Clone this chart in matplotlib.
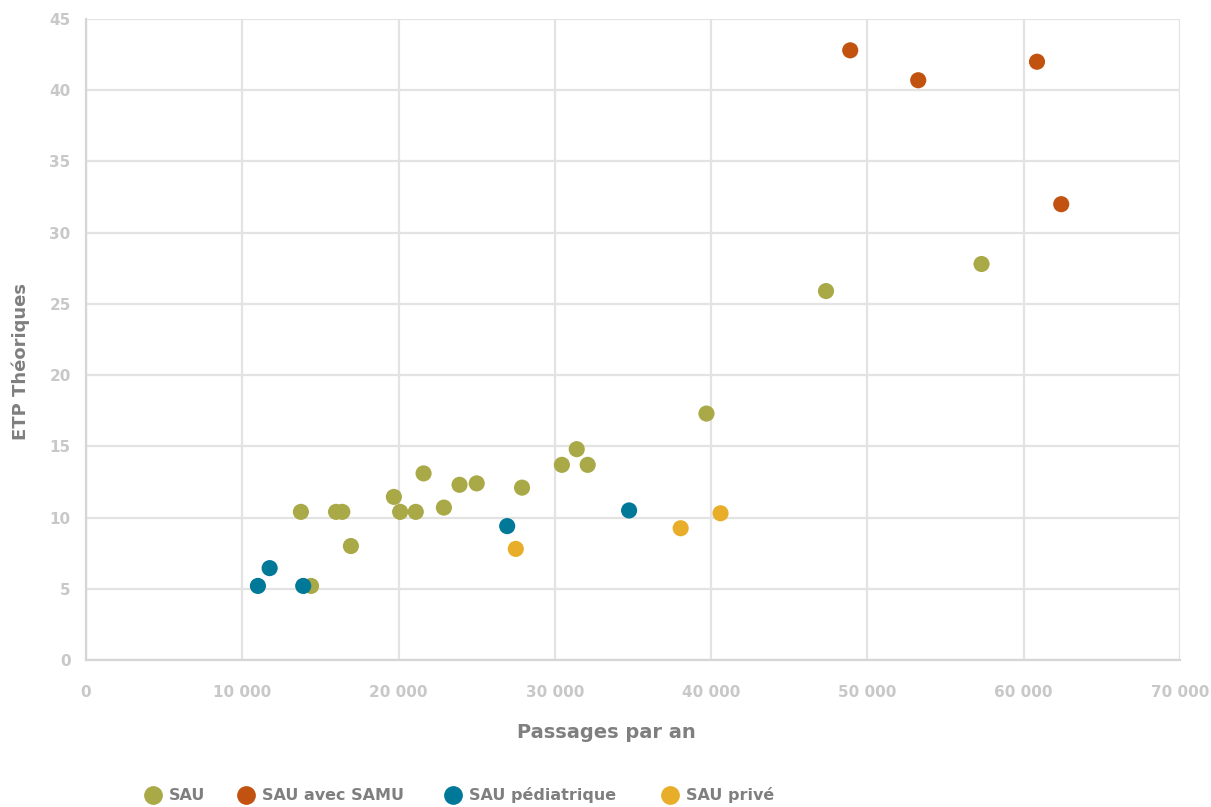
import matplotlib
matplotlib.use("Agg")
import matplotlib.pyplot as plt
from matplotlib.ticker import FuncFormatter, MultipleLocator
from matplotlib.lines import Line2D

sau_x = [13750, 14400, 16000, 16400, 16950, 19700, 20100, 21100, 21600, 22900,
         23900, 25000, 27900, 30450, 31400, 32100, 39700, 47350, 57300]
sau_y = [10.4, 5.2, 10.4, 10.4, 8.0, 11.45, 10.4, 10.4, 13.1, 10.7,
         12.3, 12.4, 12.1, 13.7, 14.8, 13.7, 17.3, 25.9, 27.8]

samu_x = [48900, 53250, 60850, 62400]
samu_y = [42.8, 40.7, 42.0, 32.0]

ped_x = [11000, 11750, 13900, 26950, 34750]
ped_y = [5.2, 6.45, 5.2, 9.4, 10.5]

priv_x = [27500, 38050, 40600]
priv_y = [7.8, 9.25, 10.3]

series = [
    ("SAU", sau_x, sau_y, "#A9A948"),
    ("SAU avec SAMU", samu_x, samu_y, "#C2520F"),
    ("SAU pédiatrique", ped_x, ped_y, "#007898"),
    ("SAU privé", priv_x, priv_y, "#E8AE2A"),
]

plt.rcParams['font.family'] = ['DejaVu Sans']

W, H = 1211, 807
fig = plt.figure(figsize=(W / 100, H / 100), dpi=100)
ax = fig.add_axes([86 / W, 1 - 660 / H, (1180 - 86) / W, (660 - 19) / H])

for name, xs, ys, c in series:
    ax.scatter(xs, ys, s=135, color=c, edgecolors='none', zorder=3, label=name)

ax.set_xlim(0, 70000)
ax.set_ylim(0, 45)
ax.xaxis.set_major_locator(MultipleLocator(10000))
ax.yaxis.set_major_locator(MultipleLocator(5))
ax.xaxis.set_major_formatter(FuncFormatter(lambda v, p: f"{int(v):,}".replace(",", " ")))
ax.grid(True, color="#E3E3E3", linewidth=1.6, zorder=0)
ax.set_axisbelow(True)
for s in ["top", "right"]:
    ax.spines[s].set_visible(False)
for s in ["left", "bottom"]:
    ax.spines[s].set_color("#D6D6D6")
    ax.spines[s].set_linewidth(1.6)
ax.tick_params(length=0, colors="#C8C8C8", labelsize=11)
ax.tick_params(axis='x', pad=18)
ax.tick_params(axis='y', pad=11)
for lab in ax.get_xticklabels() + ax.get_yticklabels():
    lab.set_fontweight('bold')

fig.text(606 / W, 1 - 733 / H, "Passages par an", fontsize=14, fontweight='bold',
         color="#7F7F7F", ha='center', va='center')
fig.text(21 / W, 1 - 362 / H, "ETP Théoriques", fontsize=13, fontweight='bold',
         color="#7F7F7F", ha='center', va='center', rotation=90)

# legend (manual placement)
leg_marker_x = [153, 246, 453, 670]
leg_y = 1 - 795 / H
for (name, _, _, c), mx in zip(series, leg_marker_x):
    fig.add_artist(Line2D([mx / W], [leg_y], marker='o', linestyle='none', markersize=13.5,
                          markerfacecolor=c, markeredgecolor='none', transform=fig.transFigure))
    fig.text((mx + 16) / W, leg_y, name, fontsize=11.5, fontweight='bold', color="#7F7F7F",
             ha='left', va='center')

fig.savefig("out.png", dpi=100)
